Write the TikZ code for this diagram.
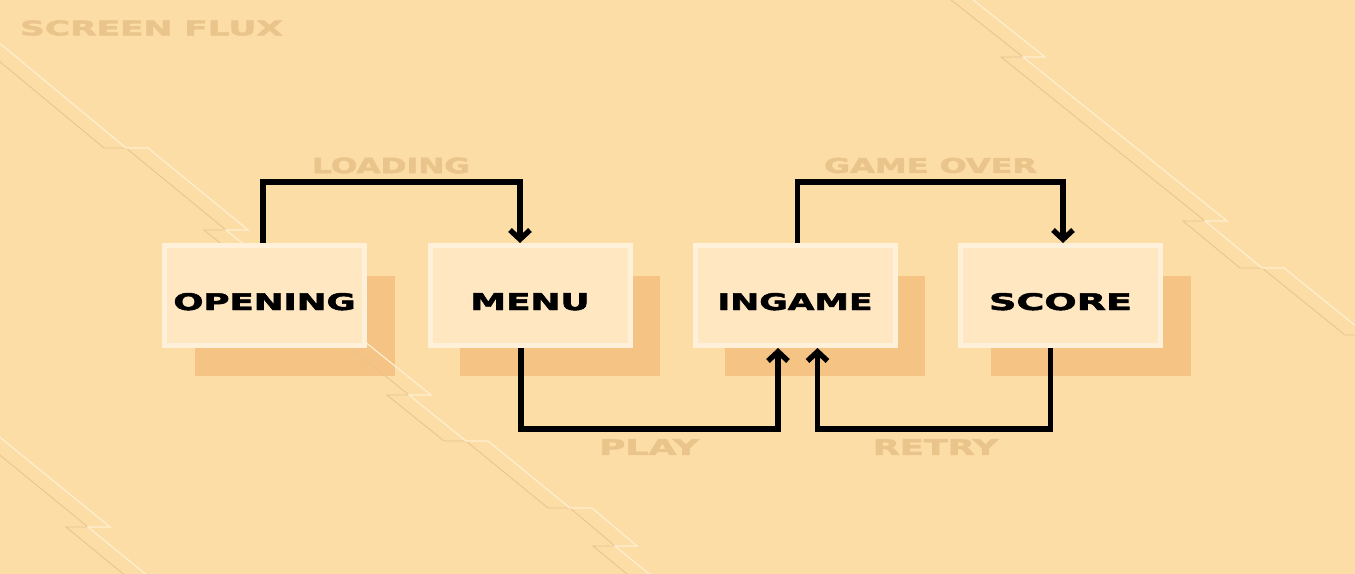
\documentclass[tikz,border=0pt]{standalone}
\usepackage{fontspec}
\setmainfont{DejaVu Sans}
\newfontfamily\fluxfont{DejaVu Sans}[BoldFeatures={FakeBold=2}]
\usetikzlibrary{arrows.meta,calc}

\definecolor{sand}{HTML}{FDDDA6}
\definecolor{boxfill}{HTML}{FFE7C2}
\definecolor{boxedge}{HTML}{FFF0DA}
\definecolor{shadowfill}{HTML}{F5C384}
\definecolor{faint}{HTML}{EAC58B}
\definecolor{glintcol}{HTML}{FFEFD2}
\definecolor{groovecol}{HTML}{E8C38A}

% stretched caps, width x height
\newcommand{\fluxtext}[3]{\resizebox{#1}{#2}{\fluxfont\bfseries #3}}

\begin{document}
\begin{tikzpicture}[x=0.75pt,y=-0.75pt,
    screen/.style={draw=boxedge,line width=3.75pt,fill=boxfill,
      minimum width=150pt,minimum height=75pt,inner sep=0pt,
      text height=21.75pt,text depth=0pt},
    flow/.style={line width=4pt,-{Straight Barb[length=7pt,width=15pt,sharp]}},
    tag/.style={text=faint,inner sep=0pt},
    glint/.style={draw=glintcol,line width=0.9pt},
    groove/.style={draw=groovecol,line width=0.6pt}]
  \useasboundingbox (0,0) rectangle (1355,574);
  \clip (0,0) rectangle (1355,574);
  \fill[sand] (0,0) rectangle (1355,574);

  % shadows
  \foreach \x in {264.5,530,795,1060.5}
    \fill[shadowfill] (\x-70,276) rectangle (\x+130,376);

  % circuit traces
  \foreach \dx/\kind in {-16.5pt/groove,0pt/glint} {
    \begin{scope}[xshift=\dx]
      \draw[\kind] (-20,27) -- (126,148) -- (148,148) -- (248,230) -- (226,230)
        -- (431,395) -- (409,395) -- (466,441) -- (488,441) -- (570,508)
        -- (592,508) -- (637,546) -- (615,546) -- (660,583);
      \draw[\kind] (-20,421) -- (110,527) -- (88,527) -- (160,586);
      \draw[\kind] (953,-16) -- (1045,57) -- (1023,57) -- (1227,221) -- (1205,221)
        -- (1262,268) -- (1284,268) -- (1367,335) -- (1389,335) -- (1420,360);
    \end{scope}
  }

  % screens
  \node[screen] (opening) at (264.5,295.5) {\fluxtext{136.7pt}{12.75pt}{OPENING}};
  \node[screen] (menu) at (530,295.5) {\fluxtext{89.3pt}{12.75pt}{MENU}};
  \node[screen] (ingame) at (795,295.5) {\fluxtext{116.3pt}{12.75pt}{INGAME}};
  \node[screen] (score) at (1060.5,295.5) {\fluxtext{107.3pt}{12.75pt}{SCORE}};

  % transitions
  \draw[flow] ($(opening.north)+(-1.5,0)$) -- ++(0,-61) -| ($(menu.north)+(-10,0)$);
  \draw[flow] ($(ingame.north)+(2.5,0)$) -- ++(0,-61) -| ($(score.north)+(2.5,0)$);
  \draw[flow] ($(menu.south)+(-9,0)$) -- ++(0,81) -| ($(ingame.south)+(-17,0)$);
  \draw[flow] ($(score.south)+(-10,0)$) -- ++(0,81) -| ($(ingame.south)+(22.5,0)$);

  \node[tag] (loading) at (391,165.5) {\fluxtext{118.5pt}{11.7pt}{LOADING}};
  \node[tag] (gameover) at (930.5,165.5) {\fluxtext{159.8pt}{11.25pt}{GAME OVER}};
  \node[tag] (play) at (649,447) {\fluxtext{75pt}{11.7pt}{PLAY}};
  \node[tag] (retry) at (935.5,447) {\fluxtext{94pt}{11.7pt}{RETRY}};
  \node[tag] (title) at (151.5,28) {\fluxtext{197pt}{11.25pt}{SCREEN FLUX}};
\end{tikzpicture}
\end{document}
